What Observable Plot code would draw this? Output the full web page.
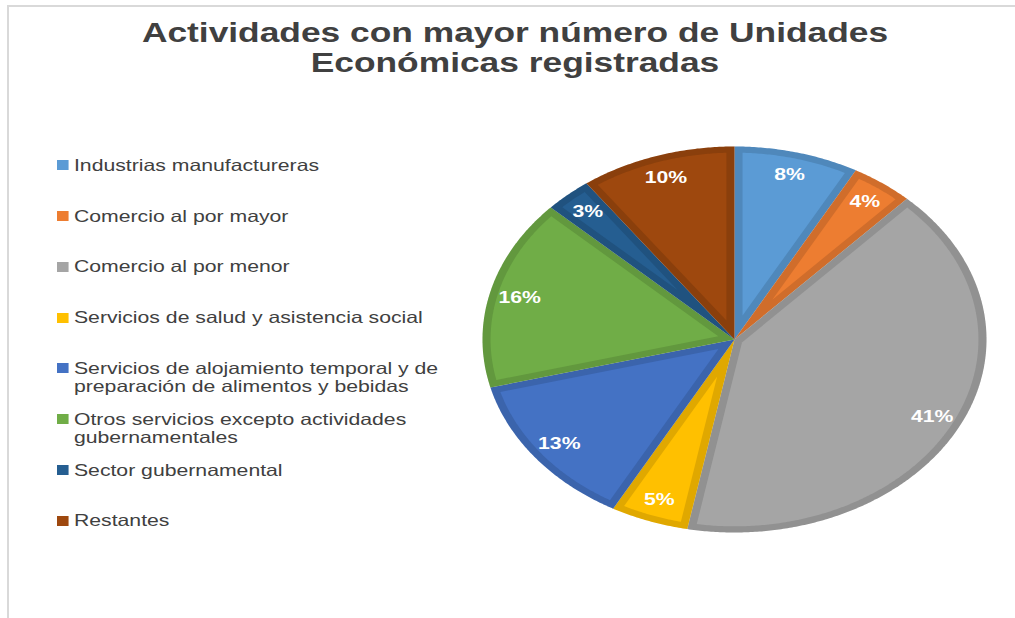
<!DOCTYPE html>
<html><head><meta charset="utf-8">
<script src="https://cdn.jsdelivr.net/npm/d3@7"></script>
<script src="https://cdn.jsdelivr.net/npm/@observablehq/plot@0.6"></script>
<style>
html,body{margin:0;padding:0;background:#fff;width:1015px;height:618px;overflow:hidden;font-family:"Liberation Sans",Arial,sans-serif;}
#frame{position:absolute;left:7px;top:5px;width:1100px;height:700px;border-top:2px solid #d9d9d9;border-left:2px solid #d9d9d9;}
#title{position:absolute;left:0;top:18px;width:1030px;text-align:center;font-weight:bold;font-size:27.5px;line-height:30px;color:#404040;transform:scaleX(1.285);transform-origin:515px 0;white-space:nowrap;}
#legend{position:absolute;left:57px;top:0;width:300px;height:600px;transform:scaleX(1.285);transform-origin:0 0;}
.item{position:absolute;left:0;width:310px;font-size:16.5px;line-height:18.5px;color:#404040;}
.sw{position:absolute;left:0;top:4.5px;width:8.5px;height:10px;}
.lab{position:absolute;left:13.2px;top:0;width:290px;}
#chart{position:absolute;left:474px;top:139px;}
</style></head><body>
<div id="frame"></div>
<div id="title">Actividades con mayor número de Unidades<br>Económicas registradas</div>
<div id="legend"></div>
<div id="chart"></div>
<script>
const categories = [
  "Industrias manufactureras",
  "Comercio al por mayor",
  "Comercio al por menor",
  "Servicios de salud y asistencia social",
  "Servicios de alojamiento temporal y de preparación de alimentos y bebidas",
  "Otros servicios excepto actividades gubernamentales",
  "Sector gubernamental",
  "Restantes"
];
const shares = [8, 4, 41, 5, 13, 16, 3, 10];
const fills = ["#5B9BD5", "#ED7D31", "#A5A5A5", "#FFC000", "#4472C4", "#70AD47", "#255E91", "#9E480E"];

const total = d3.sum(shares);
let acc = 0;
const slices = shares.map((v, i) => {
  const a0 = acc / total * 2 * Math.PI; acc += v;
  const a1 = acc / total * 2 * Math.PI;
  return {cat: categories[i], a0, a1, label: v + "%"};
});

function arcPts(cat, r, a0, a1, apexR, apexA) {
  const start = {cat, x: apexR * Math.sin(apexA), y: apexR * Math.cos(apexA)};
  const pts = [start];
  const n = Math.max(2, Math.ceil((a1 - a0) / (Math.PI / 360)));
  for (let k = 0; k <= n; k++) {
    const a = a0 + (a1 - a0) * k / n;
    pts.push({cat, x: r * Math.sin(a), y: r * Math.cos(a)});
  }
  pts.push({...start});
  return pts;
}
const D = 0.032;
const outer = slices.flatMap(s => arcPts(s.cat, 1, s.a0, s.a1, 0, 0));
const inner = slices.flatMap(s => {
  const half = (s.a1 - s.a0) / 2, R = 1 - D, da = Math.asin(D / R);
  return arcPts(s.cat, R, s.a0 + da, s.a1 - da, D / Math.sin(half), (s.a0 + s.a1) / 2);
});
const labelData = slices.map(s => {
  const m = (s.a0 + s.a1) / 2;
  return {label: s.label, x: 0.88 * Math.sin(m), y: 0.88 * Math.cos(m)};
});

const plot = Plot.plot({
  width: 520, height: 400, margin: 0,
  x: {domain: [-1, 1], range: [8, 512], axis: null},
  y: {domain: [-1, 1], range: [393, 7], axis: null},
  color: {domain: categories, range: fills},
  style: {background: "transparent", overflow: "visible"},
  marks: [
    Plot.line(outer, {x: "x", y: "y", z: "cat", fill: "cat", stroke: "none"}),
    Plot.line(outer, {x: "x", y: "y", z: "cat", fill: "black", fillOpacity: 0.12, stroke: "none"}),
    Plot.line(inner, {x: "x", y: "y", z: "cat", fill: "cat", stroke: "none"}),
    Plot.text(labelData, {x: "x", y: "y", text: "label", fill: "white", fontSize: 16.5, fontWeight: "bold",
      fontFamily: "Liberation Sans, Arial, sans-serif"})
  ]
});
document.getElementById("chart").appendChild(plot);
d3.select(plot).selectAll('g[aria-label="text"] text').attr("transform", function() {
  return (this.getAttribute("transform") || "") + " scale(1.285,1)";
});

const cs = plot.scale("color");
const legend = d3.select("#legend");
categories.forEach((c, i) => {
  const col = cs && cs.apply ? cs.apply(c) : fills[i];
  const it = legend.append("div").attr("class", "item").style("top", (165 + i * 50.8 - 9.25) + "px");
  it.append("div").attr("class", "sw").style("background", col);
  it.append("div").attr("class", "lab").text(c);
});
</script>
</body></html>
